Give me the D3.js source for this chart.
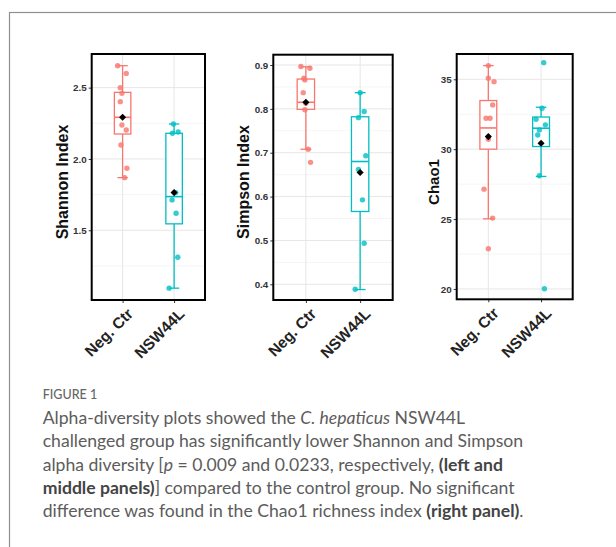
<!DOCTYPE html>
<meta charset="utf-8">
<head>
  <title>Alpha diversity</title>
  <script src="https://d3js.org/d3.v7.min.js"></script>
  <style>
    body { margin: 0; background: #fff; }
    svg { display: block; }
  </style>
</head>
<body>
<div id="my_dataviz"></div>
<script>

// groups on the x axis
var groups = ["Neg. Ctr", "NSW44L"];

// Shannon
var shannonCtr = [2.654, 2.600, 2.500, 2.460, 2.402, 2.238, 2.203, 2.098, 1.935, 1.869];
var shannonCtrJit = [-0.097, 0.071, -0.045, -0.013, -0.045, -0.013, 0.071, -0.032, 0.084, 0.039];
var shannonNsw = [2.245, 2.180, 2.189, 1.764, 1.713, 1.619, 1.311, 1.094];
var shannonNswJit = [-0.013, -0.032, 0.078, 0.032, -0.039, 0.039, 0.071, -0.097];
// [lower whisker, q1, median, q3, upper whisker, mean]
var shannonBox = [[1.869, 2.175, 2.292, 2.467, 2.654, 2.292],
                  [1.094, 1.545, 1.736, 2.180, 2.245, 1.764]];
var shannonTicks = [1.5, 2.0, 2.5];
var shannonMinor = [1.25, 1.75, 2.25];

// Simpson
var simpsonCtr = [0.8965, 0.8927, 0.870, 0.866, 0.837, 0.813, 0.798, 0.708, 0.678];
var simpsonCtrJit = [-0.092, 0.074, -0.037, -0.018, -0.049, 0.0, -0.018, 0.043, 0.086];
var simpsonNsw = [0.837, 0.794, 0.780, 0.693, 0.662, 0.5925, 0.4937, 0.3888];
var simpsonNswJit = [0.0, 0.074, -0.031, 0.104, -0.031, 0.043, 0.074, -0.092];
var simpsonBox = [[0.708, 0.799, 0.815, 0.868, 0.896, 0.815],
                  [0.388, 0.566, 0.680, 0.782, 0.837, 0.655]];
var simpsonTicks = [0.4, 0.5, 0.6, 0.7, 0.8, 0.9];
var simpsonMinor = [0.45, 0.55, 0.65, 0.75, 0.85];

// Chao1
var chaoCtr = [35.98, 35.07, 34.83, 33.17, 32.21, 32.21, 30.86, 30.71, 27.14, 25.07, 22.88];
var chaoCtrJit = [0.0, 0.0, 0.108, 0.082, -0.044, 0.032, 0.0, 0.0, -0.082, 0.082, 0.0];
var chaoNsw = [36.19, 32.93, 32.14, 31.74, 31.38, 31.02, 28.1, 20.02];
var chaoNswJit = [0.051, 0.019, -0.095, 0.082, -0.032, -0.063, -0.032, 0.063];
var chaoBox = [[25.02, 30.0, 31.52, 33.48, 35.98, 30.9],
               [28.05, 30.19, 31.5, 32.3, 33.0, 30.43]];
var chaoTicks = [20, 25, 30, 35];
var chaoMinor = [22.5, 27.5, 32.5];

var colors = ["#F8766D", "#00BFC4"];

var svg = d3.select("#my_dataviz")
  .append("svg")
    .attr("width", 616)
    .attr("height", 547);

// card outline
svg.append("rect")
  .attr("x", 9.5).attr("y", 12.5)
  .attr("width", 700).attr("height", 600)
  .attr("fill", "none")
  .attr("stroke", "#8f8f8f")
  .attr("stroke-width", 1.2);

var panels = [
  {title: "Shannon Index", titleSize: 16, left: 91.7, right: 205, top: 54, bottom: 300,
   domain: [1.011, 2.736], ticks: shannonTicks, minor: shannonMinor, fmt: d3.format(".1f"),
   values: [shannonCtr, shannonNsw], jit: [shannonCtrJit, shannonNswJit], box: shannonBox, titleX: 67.5},
  {title: "Simpson Index", titleSize: 16, left: 273.3, right: 392.7, top: 54.7, bottom: 300,
   domain: [0.3642, 0.9235], ticks: simpsonTicks, minor: simpsonMinor, fmt: d3.format(".1f"),
   values: [simpsonCtr, simpsonNsw], jit: [simpsonCtrJit, simpsonNswJit], box: simpsonBox, titleX: 248.5},
  {title: "Chao1", titleSize: 15, left: 456.7, right: 572.7, top: 54, bottom: 299.3,
   domain: [19.26, 36.81], ticks: chaoTicks, minor: chaoMinor, fmt: d3.format("d"),
   values: [chaoCtr, chaoNsw], jit: [chaoCtrJit, chaoNswJit], box: chaoBox, titleX: 438.5}
];

panels.forEach(function(p) {
  var g = svg.append("g");

  var x = d3.scaleLinear().domain([0.4, 2.6]).range([p.left, p.right]);
  var y = d3.scaleLinear().domain(p.domain).range([p.bottom, p.top]);

  // grid
  g.selectAll(".minor").data(p.minor).enter().append("line")
    .attr("x1", p.left).attr("x2", p.right)
    .attr("y1", function(d) { return y(d); }).attr("y2", function(d) { return y(d); })
    .attr("stroke", "#f2f2f2").attr("stroke-width", 0.8);
  g.selectAll(".major").data(p.ticks).enter().append("line")
    .attr("x1", p.left).attr("x2", p.right)
    .attr("y1", function(d) { return y(d); }).attr("y2", function(d) { return y(d); })
    .attr("stroke", "#e6e6e6").attr("stroke-width", 1);
  g.selectAll(".vgrid").data([1, 2]).enter().append("line")
    .attr("x1", function(d) { return x(d); }).attr("x2", function(d) { return x(d); })
    .attr("y1", p.top).attr("y2", p.bottom)
    .attr("stroke", "#e6e6e6").attr("stroke-width", 1);

  // y axis
  var yAxis = g.append("g")
    .attr("transform", "translate(" + p.left + ",0)")
    .call(d3.axisLeft(y).tickValues(p.ticks).tickFormat(p.fmt).tickSize(3).tickPadding(2));
  yAxis.select(".domain").remove();
  yAxis.selectAll("line").attr("stroke", "#333");
  yAxis.selectAll("text")
    .attr("fill", "#333")
    .style("font-family", "Liberation Sans, Arial, sans-serif")
    .style("font-size", "9.8px")
    .style("font-weight", "bold");

  // x axis
  var xAxis = g.append("g")
    .attr("transform", "translate(0," + p.bottom + ")")
    .call(d3.axisBottom(x).tickValues([1, 2]).tickFormat(function(d) { return groups[d - 1]; }).tickSize(3));
  xAxis.select(".domain").remove();
  xAxis.selectAll("line").attr("stroke", "#333");
  xAxis.selectAll("text")
    .attr("fill", "#222")
    .attr("y", 0).attr("dy", "0.72em")
    .attr("transform", "translate(3,7) rotate(-45)")
    .style("text-anchor", "end")
    .style("font-family", "Liberation Sans, Arial, sans-serif")
    .style("font-size", "15.5px")
    .style("font-weight", "bold");

  // y title
  g.append("text")
    .attr("transform", "translate(" + p.titleX + "," + 182 + ") rotate(-90)")
    .attr("text-anchor", "middle")
    .style("font-family", "Liberation Sans, Arial, sans-serif")
    .style("font-size", p.titleSize + "px")
    .style("font-weight", "bold")
    .attr("fill", "#111")
    .text(p.title);

  // boxplots
  p.box.forEach(function(b, i) {
    var cx = i + 1, col = colors[i];
    var bg = g.append("g").attr("stroke", col).attr("stroke-width", 1.3).attr("fill", "none");
    // whiskers
    bg.append("line").attr("x1", x(cx)).attr("x2", x(cx)).attr("y1", y(b[0])).attr("y2", y(b[1]));
    bg.append("line").attr("x1", x(cx)).attr("x2", x(cx)).attr("y1", y(b[3])).attr("y2", y(b[4]));
    bg.selectAll(".cap").data([b[0], b[4]]).enter().append("line")
      .attr("x1", x(cx - 0.1)).attr("x2", x(cx + 0.1))
      .attr("y1", function(d) { return y(d); }).attr("y2", function(d) { return y(d); });
    bg.append("rect")
      .attr("x", x(cx - 0.16)).attr("width", x(cx + 0.16) - x(cx - 0.16))
      .attr("y", y(b[3])).attr("height", y(b[1]) - y(b[3]))
      .attr("fill", "#fff");
    bg.append("line").attr("x1", x(cx - 0.16)).attr("x2", x(cx + 0.16))
      .attr("y1", y(b[2])).attr("y2", y(b[2])).attr("stroke-width", 1.6);
  });

  // jittered points
  p.values.forEach(function(vals, i) {
    g.selectAll(".pt" + i).data(vals).enter().append("circle")
      .attr("cx", function(d, j) { return x(i + 1 + p.jit[i][j]); })
      .attr("cy", function(d) { return y(d); })
      .attr("r", 2.7)
      .attr("fill", colors[i])
      .attr("fill-opacity", 0.8);
  });

  // means
  g.selectAll(".mean").data(p.box).enter().append("path")
    .attr("d", d3.symbol().type(d3.symbolDiamond2).size(32))
    .attr("transform", function(b, i) { return "translate(" + x(i + 1) + "," + y(b[5]) + ")"; })
    .attr("fill", "#000");

  // panel frame
  g.append("rect")
    .attr("x", p.left).attr("y", p.top)
    .attr("width", p.right - p.left).attr("height", p.bottom - p.top)
    .attr("fill", "none").attr("stroke", "#000").attr("stroke-width", 2);
});

// caption
var cap = svg.append("g")
  .style("font-family", "Lato, 'Open Sans', sans-serif")
  .attr("fill", "#5c5c5c");

cap.append("text")
  .attr("x", 42.7).attr("y", 399)
  .style("font-size", "12.5px")
  .style("font-weight", "500")
  .attr("fill", "#666")
  .text("FIGURE 1");

var lines = [
  [["Alpha-diversity plots showed the ", ""], ["C. hepaticus", "i"], [" NSW44L", ""]],
  [["challenged group has significantly lower Shannon and Simpson", ""]],
  [["alpha diversity [", ""], ["p", "i"], [" = 0.009 and 0.0233, respectively, ", ""], ["(left and", "b"]],
  [["middle panels)", "b"], ["] compared to the control group. No significant", ""]],
  [["difference was found in the Chao1 richness index ", ""], ["(right panel)", "b"], [".", ""]]
];

lines.forEach(function(line, k) {
  var t = cap.append("text")
    .attr("x", 42.7).attr("y", 424 + k * 23.3)
    .style("font-size", "17.6px");
  line.forEach(function(s) {
    var ts = t.append("tspan").text(s[0]);
    if (s[1] === "i") ts.style("font-style", "italic");
    if (s[1] === "b") ts.style("font-weight", "bold").attr("fill", "#444");
  });
});

</script>
</body>
